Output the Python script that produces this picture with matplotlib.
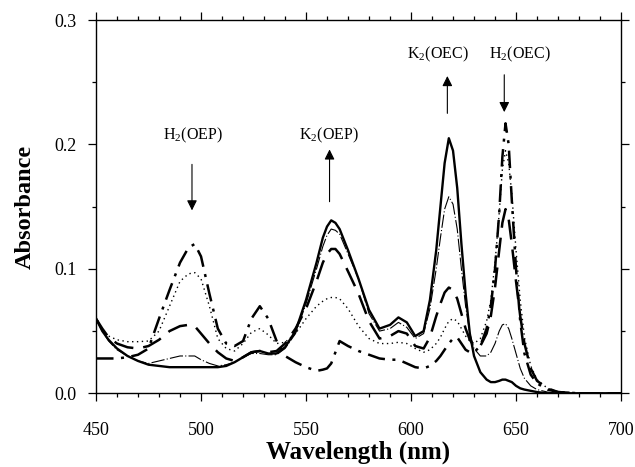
import matplotlib
matplotlib.use("Agg")
import matplotlib.pyplot as plt
from matplotlib.ticker import MultipleLocator, FormatStrFormatter

plt.rcParams['font.family'] = ['Liberation Serif', 'DejaVu Serif']
plt.rcParams['mathtext.fontset'] = 'custom'
plt.rcParams['mathtext.rm'] = 'Liberation Serif'

wavelength = [450, 453, 456, 460, 465, 470, 475, 480, 485, 490, 494, 497, 500, 504, 508,
              512, 516, 520, 524, 528, 532, 536, 540, 545, 550, 555, 558,
              560, 562, 564, 566, 570, 575, 580, 585, 590, 594, 598,
              602, 606, 609, 612, 614, 616, 618, 620, 622, 624, 626, 628, 630, 633, 636,
              638, 640, 642, 643.5, 645, 646.5, 648, 650, 652, 654, 657, 660,
              665, 670, 680, 690, 700]

# initial spectrum (H2 species) - heavy dash-dot
abs_t0 = [0.028, 0.028, 0.028, 0.028, 0.029, 0.031, 0.036, 0.060, 0.083, 0.105, 0.117, 0.120, 0.110, 0.080, 0.052,
          0.040, 0.038, 0.042, 0.060, 0.070, 0.060, 0.042, 0.030, 0.025, 0.021, 0.018, 0.019,
          0.020, 0.024, 0.033, 0.042, 0.038, 0.034, 0.031, 0.028, 0.027, 0.027, 0.024,
          0.021, 0.020, 0.022, 0.026, 0.030, 0.035, 0.040, 0.044, 0.045, 0.040, 0.035, 0.033, 0.033, 0.038, 0.052,
          0.070, 0.100, 0.145, 0.190, 0.217, 0.200, 0.155, 0.100, 0.058, 0.032, 0.015, 0.008,
          0.003, 0.001, 0.0, 0.0, 0.0]

# dotted
abs_t1 = [0.062, 0.050, 0.046, 0.043, 0.0415, 0.0415, 0.042, 0.050, 0.070, 0.090, 0.096, 0.097, 0.092, 0.070, 0.044,
          0.036, 0.034, 0.040, 0.049, 0.052, 0.047, 0.040, 0.041, 0.048, 0.060, 0.070, 0.074,
          0.076, 0.077, 0.077, 0.076, 0.068, 0.054, 0.044, 0.040, 0.040, 0.041, 0.040,
          0.036, 0.033, 0.035, 0.040, 0.045, 0.052, 0.058, 0.060, 0.058, 0.052, 0.046, 0.042, 0.040, 0.044, 0.058,
          0.075, 0.105, 0.145, 0.180, 0.195, 0.185, 0.160, 0.115, 0.075, 0.045, 0.022, 0.011,
          0.004, 0.001, 0.0, 0.0, 0.0]

# long dash
abs_t2 = [0.060, 0.052, 0.045, 0.040, 0.037, 0.036, 0.038, 0.043, 0.050, 0.054, 0.055, 0.054, 0.048, 0.040, 0.033,
          0.028, 0.026, 0.029, 0.033, 0.034, 0.033, 0.034, 0.040, 0.052, 0.068, 0.090, 0.105,
          0.112, 0.116, 0.116, 0.112, 0.098, 0.080, 0.058, 0.044, 0.046, 0.050, 0.048,
          0.038, 0.036, 0.045, 0.062, 0.072, 0.081, 0.085, 0.083, 0.076, 0.064, 0.052, 0.043, 0.038, 0.038, 0.048,
          0.062, 0.085, 0.115, 0.137, 0.148, 0.140, 0.120, 0.090, 0.062, 0.040, 0.020, 0.010,
          0.004, 0.001, 0.0, 0.0, 0.0]

# thin
abs_t3 = [0.060, 0.050, 0.042, 0.035, 0.030, 0.026, 0.024, 0.026, 0.028, 0.030, 0.030, 0.030, 0.027, 0.024, 0.022,
          0.023, 0.025, 0.029, 0.032, 0.032, 0.031, 0.031, 0.036, 0.048, 0.072, 0.100, 0.118,
          0.127, 0.132, 0.131, 0.128, 0.112, 0.092, 0.064, 0.050, 0.052, 0.057, 0.053,
          0.044, 0.048, 0.068, 0.100, 0.125, 0.148, 0.158, 0.152, 0.132, 0.100, 0.070, 0.048, 0.036, 0.030, 0.030,
          0.033, 0.040, 0.050, 0.055, 0.056, 0.052, 0.044, 0.032, 0.020, 0.012, 0.006, 0.003,
          0.001, 0.0, 0.0, 0.0, 0.0]

# final spectrum (K2 species) - heavy solid
abs_t4 = [0.060, 0.050, 0.043, 0.036, 0.030, 0.026, 0.023, 0.022, 0.021, 0.021, 0.021, 0.021, 0.021, 0.021, 0.021,
          0.022, 0.025, 0.029, 0.033, 0.034, 0.032, 0.032, 0.037, 0.050, 0.075, 0.105, 0.125,
          0.134, 0.139, 0.137, 0.132, 0.115, 0.092, 0.067, 0.052, 0.055, 0.061, 0.057,
          0.046, 0.050, 0.075, 0.115, 0.150, 0.185, 0.205, 0.195, 0.165, 0.120, 0.080, 0.048, 0.030, 0.017, 0.011,
          0.009, 0.009, 0.010, 0.011, 0.011, 0.010, 0.009, 0.006, 0.004, 0.003, 0.002, 0.001,
          0.0, 0.0, 0.0, 0.0, 0.0]

labels = ["H$_2$(OEP)", "K$_2$(OEP)", "K$_2$(OEC)", "H$_2$(OEC)"]
label_x = [496, 561, 613, 652]
label_y = [0.207, 0.207, 0.272, 0.272]
arrow_x = [495.7, 561.2, 617.3, 644.4]
arrow_from = [0.184, 0.154, 0.225, 0.256]
arrow_to = [0.147, 0.196, 0.255, 0.226]

fig = plt.figure(figsize=(6.35, 4.67), dpi=100)
ax = fig.add_axes([0.1512, 0.1578, 0.8268, 0.7993])

ax.plot(wavelength, abs_t0, color='black', lw=1.8, linestyle=(0, (7, 3, 1.2, 3)))
ax.plot(wavelength, abs_t1, color='black', lw=1.0, linestyle=(0, (1, 2.5)))
ax.plot(wavelength, abs_t2, color='black', lw=1.8, linestyle=(0, (8, 4)))
ax.plot(wavelength, abs_t3, color='black', lw=0.8, linestyle=(0, (12, 2, 1, 2)))
ax.plot(wavelength, abs_t4, color='black', lw=1.7, linestyle='-')

for txt, tx, ty, axx, y0, y1 in zip(labels, label_x, label_y, arrow_x, arrow_from, arrow_to):
    ax.text(tx, ty, txt, ha='center', va='center', fontsize=11.5)
    ax.annotate('', xy=(axx, y1), xytext=(axx, y0),
                arrowprops=dict(arrowstyle='-|>', color='black', lw=0.8,
                                mutation_scale=15, shrinkA=0, shrinkB=0))

ax.set_xlim(450, 700)
ax.set_ylim(0, 0.3)
ax.xaxis.set_major_locator(MultipleLocator(50))
ax.xaxis.set_minor_locator(MultipleLocator(10))
ax.yaxis.set_major_locator(MultipleLocator(0.1))
ax.yaxis.set_minor_locator(MultipleLocator(0.05))
ax.yaxis.set_major_formatter(FormatStrFormatter('%.1f'))
ax.tick_params(which='both', direction='out', top=True, right=True, labelsize=13, width=0.9)
ax.tick_params(which='major', length=6)
ax.tick_params(which='minor', length=3)
ax.tick_params(axis='x', pad=15)
ax.tick_params(axis='y', pad=8)
for s in ax.spines.values():
    s.set_linewidth(1.0)

ax.set_xlabel('Wavelength (nm)', fontsize=18, fontweight='bold', labelpad=1)
ax.set_ylabel('Absorbance', fontsize=17.5, fontweight='bold', labelpad=13)

fig.savefig('out.png', dpi=100)
